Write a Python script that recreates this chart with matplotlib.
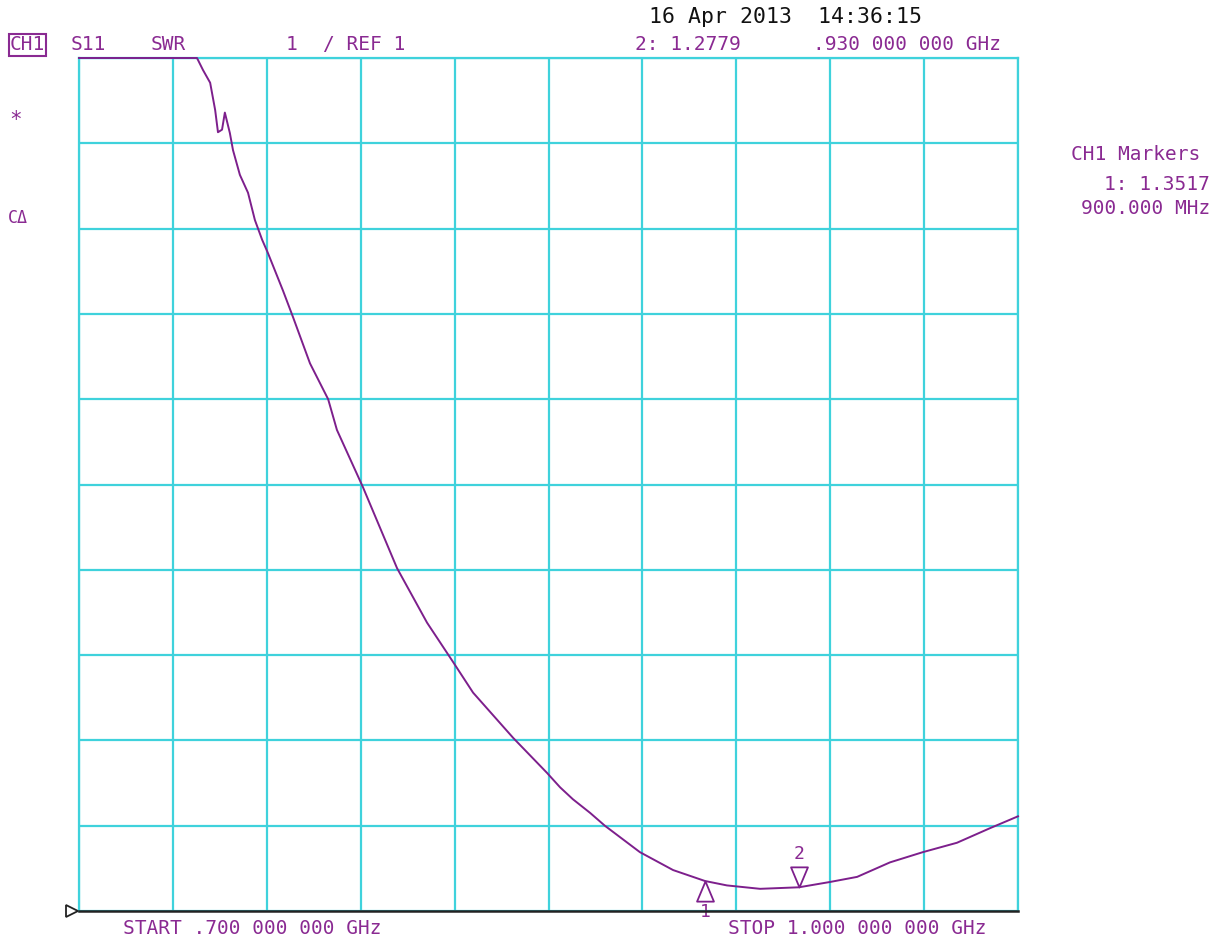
import matplotlib
matplotlib.use("Agg")
import matplotlib.pyplot as plt
import numpy as np
from matplotlib.path import Path

# trace (MHz, SWR)
freq_mhz = [700.0, 737.7, 739.6, 741.9, 743.5, 744.4, 745.7, 746.6, 748.2, 749.2,
            751.4, 754.0, 756.2, 758.5, 760.4, 765.2, 768.4, 773.8, 779.6, 782.4,
            790.7, 801.6, 811.2, 819.5, 825.9, 838.7, 849.5, 853.7, 857.8, 863.3,
            868.0, 879.2, 889.8, 900.0, 907.0, 917.6, 930.0, 939.9, 948.6, 959.1,
            969.6, 980.5, 991.0, 1000.0]
swr = [11.0, 11.0, 10.86, 10.71, 10.39, 10.13, 10.16, 10.36, 10.12, 9.92,
       9.63, 9.42, 9.10, 8.87, 8.71, 8.27, 7.96, 7.42, 7.00, 6.64,
       5.97, 5.02, 4.38, 3.92, 3.56, 3.03, 2.62, 2.45, 2.31, 2.15,
       2.00, 1.69, 1.48, 1.3517, 1.30, 1.26, 1.2779, 1.34, 1.40, 1.57,
       1.69, 1.80, 1.97, 2.11]

marker_freq = [900.0, 930.0]
marker_swr = [1.3517, 1.2779]
marker_names = ["1", "2"]

x_ticks = np.linspace(700, 1000, 11)
y_ticks = np.arange(1, 12)

cyan = "#3fd2dc"
purple = "#7d1f8c"
txt_purple = "#8a2a92"

W, H = 1215, 939
fig = plt.figure(figsize=(W / 100, H / 100), dpi=100)
ax = fig.add_axes([79 / W, 1 - 911 / H, (1018 - 79) / W, (911 - 58) / H])

ax.set_xlim(700, 1000)
ax.set_ylim(1, 11)
ax.set_xticks(x_ticks)
ax.set_yticks(y_ticks)
ax.set_xticklabels([])
ax.set_yticklabels([])
ax.tick_params(length=0)
ax.grid(True, color=cyan, lw=1.6)
for s in ["left", "right", "top"]:
    ax.spines[s].set_color(cyan)
    ax.spines[s].set_linewidth(1.6)
ax.spines["bottom"].set_color("#222222")
ax.spines["bottom"].set_linewidth(1.8)
ax.spines["bottom"].set_zorder(5)

ax.plot(freq_mhz, swr, color=purple, lw=1.4, clip_on=False, zorder=4)

# marker symbols: 1 points up from below, 2 points down from above
up = Path([(0, 0), (-0.42, -1), (0.42, -1), (0, 0)], [1, 2, 2, 79])
down = Path([(0, 0), (-0.42, 1), (0.42, 1), (0, 0)], [1, 2, 2, 79])
ax.plot(marker_freq[0], marker_swr[0], marker=up, ms=29, mfc="none", mec=purple, mew=1.3, clip_on=False)
ax.plot(marker_freq[1], marker_swr[1], marker=down, ms=29, mfc="none", mec=purple, mew=1.3, clip_on=False)
ax.annotate(marker_names[0], (marker_freq[0], marker_swr[0]), xytext=(0, -22), textcoords="offset points",
            ha="center", va="center", color=txt_purple, fontsize=13, family="DejaVu Sans Mono", annotation_clip=False)
ax.annotate(marker_names[1], (marker_freq[1], marker_swr[1]), xytext=(0, 24), textcoords="offset points",
            ha="center", va="center", color=txt_purple, fontsize=13, family="DejaVu Sans Mono", annotation_clip=False)

# reference level arrow at left of the bottom line
ax.plot([-0.007], [0], transform=ax.transAxes, marker=">", ms=8, mfc="white", mec="#222222",
        mew=1.3, clip_on=False, zorder=6)


def put(px, py, s, color=txt_purple, ha="left", size=14, **kw):
    fig.text(px / W, 1 - py / H, s, color=color, ha=ha, va="center", fontsize=size,
             family="DejaVu Sans Mono", **kw)


put(649, 17, "16 Apr 2013  14:36:15", color="#111111", size=15.5)
put(10, 45, "CH1", bbox=dict(boxstyle="square,pad=0.06", fc="none", ec=txt_purple, lw=1.5))
put(71, 45, "S11")
put(151, 45, "SWR")
put(286, 45, "1")
put(323, 45, "/ REF 1")
put(635, 45, "2: 1.2779")
put(813, 45, ".930 000 000 GHz")
put(9, 120, "*", size=15)
put(8, 218, "C\u0394", size=12)
put(1071, 155, "CH1 Markers")
put(1210, 185, "1: 1.3517", ha="right")
put(1210, 208, "900.000 MHz", ha="right")
put(123, 928, "START .700 000 000 GHz")
put(728, 928, "STOP 1.000 000 000 GHz")

fig.savefig("out.png", dpi=100, facecolor="white")
